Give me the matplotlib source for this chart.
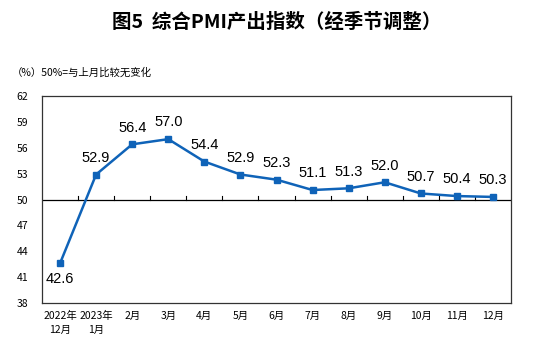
import matplotlib.pyplot as plt
import numpy as np

plt.rcParams['font.family'] = ['Noto Sans CJK SC', 'DejaVu Sans']

months = ["2022年\n12月", "2023年\n1月", "2月", "3月", "4月", "5月", "6月",
          "7月", "8月", "9月", "10月", "11月", "12月"]
pmi = [42.6, 52.9, 56.4, 57.0, 54.4, 52.9, 52.3, 51.1, 51.3, 52.0, 50.7, 50.4, 50.3]
y_ticks = [38, 41, 44, 47, 50, 53, 56, 59, 62]

fig = plt.figure(figsize=(5.54, 3.45), dpi=100)
ax = fig.add_axes([0.0758, 0.1217, 0.8466, 0.6])

x = np.arange(len(pmi))
blue = "#0f63b8"
ax.plot(x, pmi, color=blue, lw=1.8, marker="s", ms=4.5, zorder=3)

for xi, v in zip(x, pmi):
    dy = -11 if v < 50 else 12
    ax.annotate(f"{v:.1f}", (xi, v), xytext=(0, dy), textcoords="offset points",
                ha="center", va="center", fontsize=10.5, family="Liberation Sans")

# 50 line with small upward ticks between months
ax.axhline(50, color="black", lw=0.9, zorder=2)
for b in np.arange(0.5, len(pmi) - 1, 1.0):
    ax.plot([b, b], [50, 50.45], color="black", lw=0.8, zorder=2)

ax.set_xlim(-0.5, len(pmi) - 0.5)
ax.set_ylim(38, 62)
ax.set_yticks(y_ticks)
ax.set_xticks(x)
ax.set_xticklabels(months, fontsize=7, linespacing=1.5, va="top")
ax.tick_params(axis="both", length=0, labelsize=7.5)
ax.tick_params(axis="x", pad=6)
ax.tick_params(axis="y", pad=10)
for s in ax.spines.values():
    s.set_color("#333333")
    s.set_linewidth(0.9)

fig.text(0.5, 0.935, "图5  综合PMI产出指数（经季节调整）", ha="center", va="center",
         fontsize=14, fontweight="bold")
fig.text(0.022, 0.79, "（%）50%=与上月比较无变化", ha="left", va="center", fontsize=7.5)

fig.savefig("out.png", dpi=100)
